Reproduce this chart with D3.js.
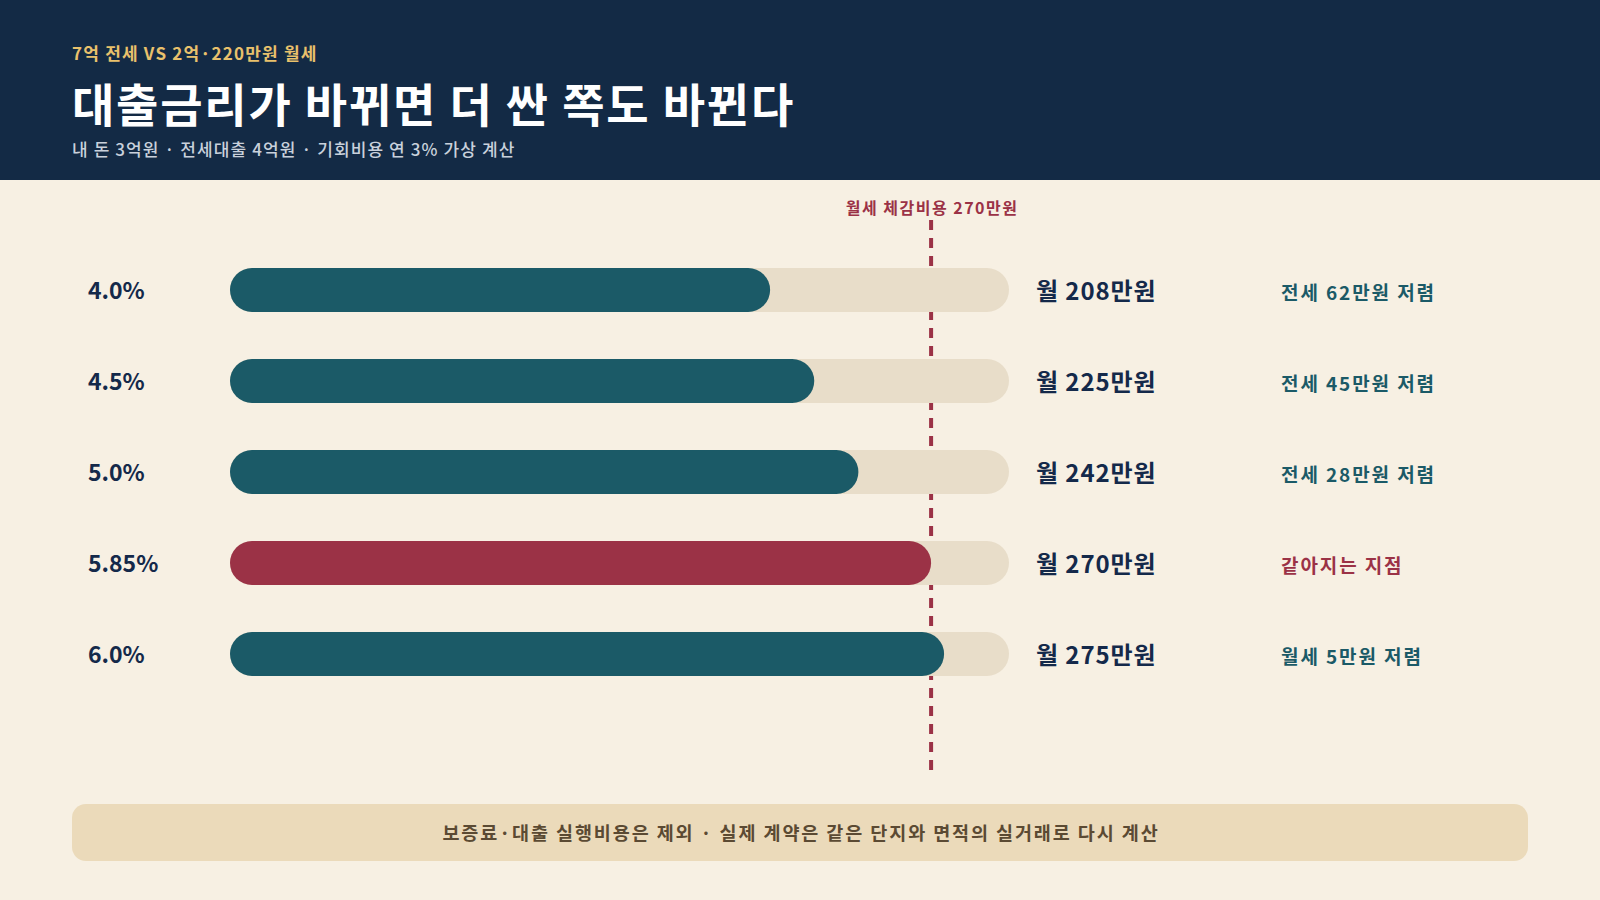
<!DOCTYPE html>
<html>
<head>
<meta charset="utf-8">
<script src="https://cdn.jsdelivr.net/npm/d3@7"></script>
<style>
  html, body { margin: 0; padding: 0; background: #f7f0e3; }
  svg { display: block; font-family: "Noto Sans CJK KR", "Noto Sans", sans-serif; }
</style>
</head>
<body>
<div id="vis"></div>
<script>
// chart values
const rates = ["4.0%", "4.5%", "5.0%", "5.85%", "6.0%"];
const monthlyCost = [208, 225, 242, 270, 275];
const notes = ["전세 62만원 저렴", "전세 45만원 저렴", "전세 28만원 저렴", "같아지는 지점", "월세 5만원 저렴"];
const highlight = [false, false, false, true, false];
const rentCost = 270;
const axisMax = 300;

const W = 1600, H = 900;
const navy = "#14294a", teal = "#1b5a67", red = "#9b3246";

const svg = d3.select("#vis").append("svg")
  .attr("width", W)
  .attr("height", H);

// background + header
svg.append("rect").attr("width", W).attr("height", H).attr("fill", "#f7f0e3");
svg.append("rect").attr("width", W).attr("height", 180).attr("fill", "#132a45");

svg.append("text")
  .attr("x", 72).attr("y", 60)
  .attr("fill", "#e9c16c")
  .style("font-size", "17px").style("font-weight", 700)
  .style("letter-spacing", "1.2px")
  .text("7억 전세 VS 2억·220만원 월세");

svg.append("text")
  .attr("x", 72).attr("y", 122)
  .attr("fill", "#ffffff")
  .style("font-size", "46px").style("font-weight", 700)
  .style("letter-spacing", "1.8px")
  .text("대출금리가 바뀌면 더 싼 쪽도 바뀐다");

svg.append("text")
  .attr("x", 72).attr("y", 156)
  .attr("fill", "#c9d1dc")
  .style("font-size", "17px").style("font-weight", 500)
  .style("letter-spacing", "1.1px")
  .text("내 돈 3억원 · 전세대출 4억원 · 기회비용 연 3% 가상 계산");

// scales
const x = d3.scaleLinear().domain([0, axisMax]).range([230, 1009]);
const y = d3.scaleBand().domain(rates).range([244.5, 699.5]);
const barH = 44;

// reference line (behind bars)
svg.append("line")
  .attr("x1", x(rentCost)).attr("x2", x(rentCost))
  .attr("y1", 220).attr("y2", 770)
  .attr("stroke", red)
  .attr("stroke-width", 4)
  .attr("stroke-dasharray", "10 8");

svg.append("text")
  .attr("x", x(rentCost) + 1).attr("y", 214)
  .attr("text-anchor", "middle")
  .attr("fill", red)
  .style("font-size", "16px").style("font-weight", 700)
  .style("letter-spacing", "1.5px")
  .text("월세 체감비용 " + rentCost + "만원");

const rows = svg.append("g").selectAll("g")
  .data(rates)
  .join("g")
  .attr("transform", d => `translate(0,${y(d) + y.bandwidth() / 2})`);

// track
rows.append("rect")
  .attr("x", x(0))
  .attr("y", -barH / 2)
  .attr("width", x(axisMax) - x(0))
  .attr("height", barH)
  .attr("rx", barH / 2)
  .attr("fill", "#e8ddc9");

// bar
rows.append("rect")
  .attr("x", x(0))
  .attr("y", -barH / 2)
  .attr("width", (d, i) => x(monthlyCost[i]) - x(0))
  .attr("height", barH)
  .attr("rx", barH / 2)
  .attr("fill", (d, i) => highlight[i] ? red : teal);

// rate labels
rows.append("text")
  .attr("x", 88).attr("y", 9)
  .attr("fill", navy)
  .style("font-size", "23px").style("font-weight", 700)
  .text(d => d);

// value labels
rows.append("text")
  .attr("x", 1036).attr("y", 10)
  .attr("fill", navy)
  .style("font-size", "24px").style("font-weight", 700)
  .style("letter-spacing", "0.9px")
  .text((d, i) => "월 " + monthlyCost[i] + "만원");

// notes
rows.append("text")
  .attr("x", 1281).attr("y", 10)
  .attr("fill", (d, i) => highlight[i] ? red : teal)
  .style("font-size", "19px").style("font-weight", 700)
  .style("letter-spacing", "1.9px")
  .text((d, i) => notes[i]);

// footer box
svg.append("rect")
  .attr("x", 72).attr("y", 804)
  .attr("width", 1456).attr("height", 57)
  .attr("rx", 14)
  .attr("fill", "#ebdaba");

svg.append("text")
  .attr("x", 801).attr("y", 840)
  .attr("text-anchor", "middle")
  .attr("fill", "#5b4a33")
  .style("font-size", "18.5px").style("font-weight", 700)
  .style("letter-spacing", "1.9px")
  .text("보증료·대출 실행비용은 제외 · 실제 계약은 같은 단지와 면적의 실거래로 다시 계산");
</script>
</body>
</html>
